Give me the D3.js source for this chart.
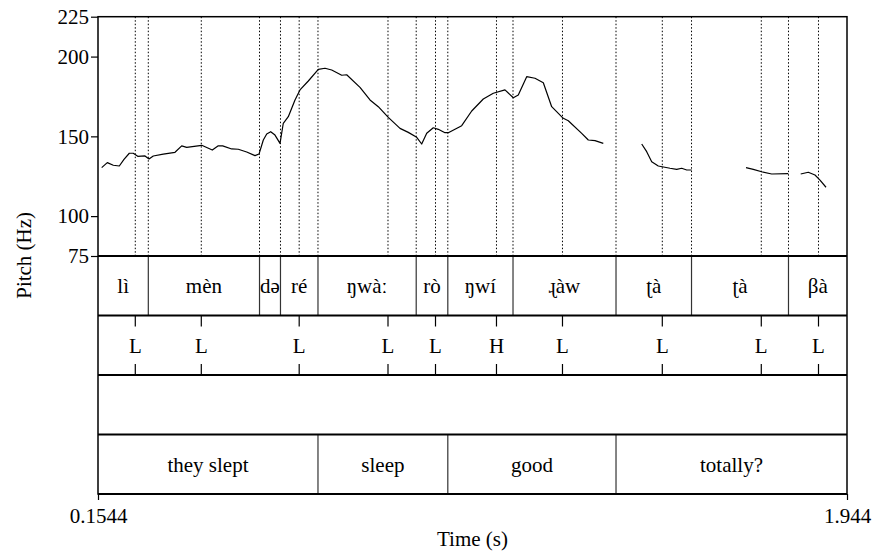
<!DOCTYPE html>
<html>
<head>
<meta charset="utf-8">
<script src="https://cdn.jsdelivr.net/npm/d3@7"></script>
<style>
  html, body { margin: 0; padding: 0; background: #fff; }
</style>
</head>
<body>
<svg id="chart" width="874" height="554"></svg>
<script>
// ---------------- data ----------------
const timeDomain = [0.1544, 1.944];
const pitchDomain = [75, 225];
const pitchTicks = [75, 100, 150, 200, 225];
const timeTickLabels = ["0.1544", "1.944"];

// pitch contour segments: [time (s), F0 (Hz)]
const pitchSeg1 = [
  [0.1632,130.4],[0.1766,133.5],[0.1910,131.9],[0.2053,131.4],[0.2165,135.6],[0.2292,139.4],
  [0.2387,139.4],[0.2493,137.5],[0.2667,137.7],[0.2763,135.8],[0.2865,137.7],[0.3104,138.9],
  [0.3384,140.0],[0.3544,144.0],[0.3663,143.1],[0.4022,144.4],[0.4275,141.4],[0.4418,144.1],
  [0.4523,144.0],[0.4738,142.1],[0.4896,141.9],[0.5097,140.2],[0.5295,137.9],[0.5391,138.9],
  [0.5494,147.7],[0.5575,151.5],[0.5670,152.9],[0.5773,150.8],[0.5893,145.6],[0.5971,158.2],
  [0.6091,162.3],[0.6251,172.8],[0.6370,179.1],[0.6569,184.7],[0.6808,192.0],[0.6968,192.7],
  [0.7128,191.6],[0.7367,188.3],[0.7486,188.6],[0.7804,180.7],[0.8043,172.8],[0.8241,168.6],
  [0.8480,161.9],[0.8760,155.0],[0.8958,152.5],[0.9159,149.4],[0.9278,145.2],[0.9398,151.9],
  [0.9555,155.4],[0.9675,154.4],[0.9835,152.3],[0.9914,152.3],[1.0234,156.7],[1.0473,165.9],
  [1.0750,173.4],[1.0989,177.0],[1.1268,179.1],[1.1467,174.2],[1.1586,175.9],[1.1787,187.4],
  [1.1985,186.4],[1.2184,183.6],[1.2384,168.6],[1.2661,161.3],[1.2781,159.8],[1.3101,151.9],
  [1.3259,147.7],[1.3419,147.3],[1.3617,145.6]
];
const pitchSeg2 = [
  [1.4535,145.2],[1.4654,140.4],[1.4774,134.1],[1.4931,131.4],[1.5211,130.0],[1.5371,129.3],
  [1.5490,130.0],[1.5610,128.9],[1.5729,128.9]
];
const pitchSeg3 = [
  [1.7027,130.4],[1.7201,129.3],[1.7402,127.8],[1.7641,126.4],[1.8037,126.6]
];
const pitchSeg4 = [
  [1.8334,126.4],[1.8515,127.5],[1.8675,125.8],[1.8795,122.6],[1.8938,118.1]
];

// tier 1: syllables
const syllableBounds = [0.2746, 0.5403, 0.5904, 0.6800, 0.9147, 0.9902, 1.1460, 1.3921, 1.5725, 1.8042];
const syllableLabels = ["lì", "mèn", "də", "ré", "ŋwàː", "rò", "ŋwí", "ɻàw", "ʈà", "ʈà", "βà"];
// tier 2: tones (points)
const toneTimes = [0.2435, 0.4012, 0.6351, 0.8473, 0.9608, 1.1065, 1.2642, 1.5027, 1.7392, 1.8759];
const toneLabels = ["L", "L", "L", "L", "L", "H", "L", "L", "L", "L"];
// tier 4: glosses
const wordBounds = [0.6800, 0.9902, 1.3921];
const wordLabels = ["they slept", "sleep", "good", "totally?"];

// ---------------- layout ----------------
const L = 98, R = 847, T = 16.7;
const pitchBottom = 256;
const tierY = [256, 315.5, 375, 434.5, 494];
const FONT = "'Liberation Serif', Tinos, 'Times New Roman', Times, 'DejaVu Serif', serif";
const FS = 21;

const svg = d3.select("#chart");
const x = d3.scaleLinear().domain(timeDomain).range([L, R]);
const y = d3.scaleLinear().domain(pitchDomain).range([pitchBottom, T]);

// dotted lines in pitch panel
const dotted = syllableBounds.concat(toneTimes);
svg.append("g").selectAll("line").data(dotted).join("line")
  .attr("x1", d => x(d)).attr("x2", d => x(d))
  .attr("y1", T).attr("y2", pitchBottom)
  .attr("stroke", "#000").attr("stroke-width", 1)
  .attr("stroke-dasharray", "1.5,2");

// pitch contour
const line = d3.line().x(d => x(d[0])).y(d => y(d[1]));
svg.append("g").selectAll("path").data([pitchSeg1, pitchSeg2, pitchSeg3, pitchSeg4]).join("path")
  .attr("d", line).attr("fill", "none").attr("stroke", "#000").attr("stroke-width", 1.2)
  .attr("stroke-linejoin", "round");

// tier 1 boundaries
svg.append("g").selectAll("line").data(syllableBounds).join("line")
  .attr("x1", d => x(d)).attr("x2", d => x(d))
  .attr("y1", tierY[0]).attr("y2", tierY[1])
  .attr("stroke", "#333").attr("stroke-width", 1.2);
const sylEdges = [timeDomain[0]].concat(syllableBounds, [timeDomain[1]]);
svg.append("g").selectAll("text").data(syllableLabels).join("text")
  .attr("x", (d, i) => (x(sylEdges[i]) + x(sylEdges[i + 1])) / 2)
  .attr("y", (tierY[0] + tierY[1]) / 2 + 7)
  .attr("text-anchor", "middle").attr("font-family", FONT).attr("font-size", FS).text(d => d);

// tier 2 points
const tk = 11;
const tg = svg.append("g");
tg.selectAll("line.top").data(toneTimes).join("line").attr("class", "top")
  .attr("x1", d => x(d)).attr("x2", d => x(d))
  .attr("y1", tierY[1]).attr("y2", tierY[1] + tk)
  .attr("stroke", "#000").attr("stroke-width", 1.2);
tg.selectAll("line.bot").data(toneTimes).join("line").attr("class", "bot")
  .attr("x1", d => x(d)).attr("x2", d => x(d))
  .attr("y1", tierY[2] - tk).attr("y2", tierY[2])
  .attr("stroke", "#000").attr("stroke-width", 1.2);
tg.selectAll("text").data(toneLabels).join("text")
  .attr("x", (d, i) => x(toneTimes[i]))
  .attr("y", (tierY[1] + tierY[2]) / 2 + 7.5)
  .attr("text-anchor", "middle").attr("font-family", FONT).attr("font-size", FS).text(d => d);

// tier 4 words
svg.append("g").selectAll("line").data(wordBounds).join("line")
  .attr("x1", d => x(d)).attr("x2", d => x(d))
  .attr("y1", tierY[3]).attr("y2", tierY[4])
  .attr("stroke", "#333").attr("stroke-width", 1.2);
const wEdges = [timeDomain[0]].concat(wordBounds, [timeDomain[1]]);
svg.append("g").selectAll("text").data(wordLabels).join("text")
  .attr("x", (d, i) => (x(wEdges[i]) + x(wEdges[i + 1])) / 2)
  .attr("y", (tierY[3] + tierY[4]) / 2 + 7.5)
  .attr("text-anchor", "middle").attr("font-family", FONT).attr("font-size", FS).text(d => d);

// horizontal tier separators
svg.append("g").selectAll("line").data(tierY).join("line")
  .attr("x1", L).attr("x2", R).attr("y1", d => d).attr("y2", d => d)
  .attr("stroke", "#000").attr("stroke-width", 2);

// outer frame
svg.append("rect").attr("x", L).attr("y", T).attr("width", R - L).attr("height", tierY[4] - T)
  .attr("fill", "none").attr("stroke", "#000").attr("stroke-width", 1.5);

// y axis (pitch)
const yAxis = d3.axisLeft(y).tickValues(pitchTicks).tickSize(7).tickPadding(2).tickFormat(d3.format("d"));
const yg = svg.append("g").attr("transform", `translate(${L},0)`).call(yAxis)
  .attr("font-family", FONT).attr("font-size", FS);
yg.select(".domain").remove();
yg.selectAll("line").attr("stroke", "#000").attr("stroke-width", 1.2);
yg.selectAll("text").attr("fill", "#000");

// x axis (time)
const xAxis = d3.axisBottom(x).tickValues(timeDomain).tickSize(6).tickPadding(8)
  .tickFormat((d, i) => timeTickLabels[i]);
const xg = svg.append("g").attr("transform", `translate(0,${tierY[4]})`).call(xAxis)
  .attr("font-family", FONT).attr("font-size", FS);
xg.select(".domain").remove();
xg.selectAll("line").attr("stroke", "#000").attr("stroke-width", 1.2);
xg.selectAll("text").attr("fill", "#000");

// axis titles
svg.append("text").attr("x", (L + R) / 2).attr("y", 546)
  .attr("text-anchor", "middle").attr("font-family", FONT).attr("font-size", FS).text("Time (s)");
svg.append("text").attr("transform", `translate(31,${(T + tierY[4]) / 2}) rotate(-90)`)
  .attr("text-anchor", "middle").attr("font-family", FONT).attr("font-size", FS).text("Pitch (Hz)");
</script>
</body>
</html>
